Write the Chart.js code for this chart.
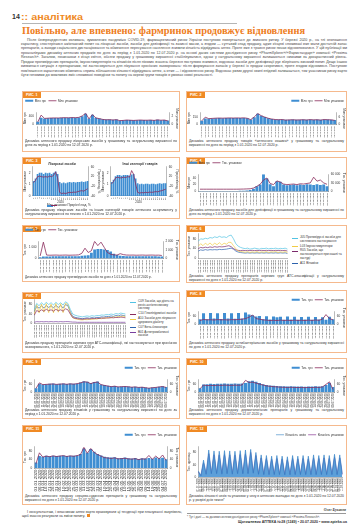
<!DOCTYPE html>
<html lang="uk"><head><meta charset="utf-8">
<script src="https://cdn.jsdelivr.net/npm/chart.js@4.4.0/dist/chart.umd.min.js"></script>
<style>
html,body{margin:0;padding:0;}
body{width:360px;height:530px;background:#fff;position:relative;overflow:hidden;font-family:"Liberation Sans",Arial,sans-serif;color:#333;}
.a{position:absolute;}
#pg{left:12px;top:13px;font:bold 7px "Liberation Sans";color:#333;}
#sec{left:21px;top:11px;font:bold 9.5px "Liberation Sans";color:#f08a24;white-space:nowrap;transform-origin:0 0;}
#rule{left:22px;top:23px;width:215px;height:0;border-top:0.8px solid #b5b5b5;}
#title{left:22px;top:25px;font:bold 10.5px "Liberation Serif";color:#ee7d22;white-space:nowrap;transform-origin:0 0;}
#body{left:21px;top:37.5px;width:326px;font:3.6px/4.45px "Liberation Sans";color:#444;text-align:justify;text-indent:6px;}
.box{position:absolute;border:1px solid #f5b98d;box-sizing:border-box;}
.tag{position:absolute;left:0;top:0;background:#f08a24;color:#fff;font:bold 3.6px/6px "Liberation Sans";padding:0 3px;height:6px;}
.cap{position:absolute;font:3.4px/4.3px "Liberation Sans";color:#333;text-align:justify;}
canvas{position:absolute;}
.lg{position:absolute;font:3.1px/3.7px "Liberation Sans";color:#333;}
.lg div{position:relative;padding-left:8px;margin-bottom:1.2px;}
.lg span{position:absolute;left:0;top:1.6px;width:6px;height:0.9px;}
#foot1{left:22px;top:509.5px;width:160px;font:3.5px/4.4px "Liberation Sans";text-align:justify;text-indent:5px;color:#333;}
#sign{left:300px;top:507.5px;width:46px;text-align:right;font:italic bold 3.8px "Liberation Serif";color:#333;}
#frule{left:187px;top:513px;width:159px;border-top:0.6px solid #999;}
#fnote{left:187px;top:514.5px;font:2.9px "Liberation Sans";color:#444;white-space:nowrap;}
#pfoot{left:226px;top:520px;width:121px;text-align:right;font:bold 3.6px "Liberation Sans";color:#333;white-space:nowrap;}
.sq{display:inline-block;width:2.5px;height:2.5px;background:#f08a24;margin-left:2px;}
</style></head>
<body>
<div id="pg" class="a">14</div>
<div id="sec" class="a">:: аналітика</div>
<div id="rule" class="a"></div>
<div id="title" class="a">Повільно, але впевнено: фармринок продовжує відновлення</div>
<div id="body" class="a">Після безпрецедентних коливань, зумовлених пандемією COVID-19, фармацевтичний ринок України поступово повертається до звичного ритму. У березні 2020 р., на тлі оголошення карантину, спостерігався ажіотажний попит на лікарські засоби, засоби для дезінфекції та захисні маски, а згодом — суттєвий спад продажу, адже кінцеві споживачі вже мали достатній запас препаратів, а заходи соціального дистанціювання та обмеження пересування населення знизили кількість відвідувань аптек. Проте вже з травня ринок почав відновлюватися. У цій публікації ми проаналізуємо динаміку аптечних продажів по днях за період з 1.01.2020 по 12.07.2020 р. на основі даних системи дослідження ринку «PharmXplorer»/«Фармстандарт» компанії «Proxima Research». Загалом, починаючи з кінця квітня, обсяги продажу у грошовому вираженні стабілізувалися, однак у натуральному вираженні залишаються нижчими за докарантинний рівень. Продаж противірусних препаратів, імуностимуляторів та вітамінів після пікових значень березня поступово знизився, водночас засоби для дезінфекції рук зберігають високий попит. Дещо іншою виявилася ситуація з препаратами, які застосовуються для лікування хронічних захворювань: після формування запасів у березні їх продаж скоротився, проте згодом відновився. Поступове пом'якшення карантинних обмежень сприяє збільшенню кількості відвідувань аптек, а отже — і відновленню ринку. Водночас ризик другої хвилі епідемії залишається, тож учасникам ринку варто бути готовими до можливих змін споживчої поведінки та попиту на окремі групи товарів в умовах нової реальності.</div>

<div class="box" style="left:22px;top:91px;width:158px;height:61px"><div class="tag">РИС. 1</div></div>
<div class="box" style="left:186px;top:91px;width:161px;height:61px"><div class="tag">РИС. 2</div></div>
<div class="box" style="left:22px;top:157px;width:158px;height:62px"><div class="tag">РИС. 3</div></div>
<div class="box" style="left:186px;top:157px;width:161px;height:62px"><div class="tag">РИС. 4</div></div>
<div class="box" style="left:22px;top:225px;width:158px;height:57px"><div class="tag">РИС. 5</div></div>
<div class="box" style="left:186px;top:225px;width:161px;height:58px"><div class="tag">РИС. 6</div></div>
<div class="box" style="left:22px;top:292px;width:158px;height:61px"><div class="tag">РИС. 7</div></div>
<div class="box" style="left:186px;top:290px;width:161px;height:63px"><div class="tag">РИС. 8</div></div>
<div class="box" style="left:22px;top:358px;width:158px;height:61px"><div class="tag">РИС. 9</div></div>
<div class="box" style="left:186px;top:358px;width:161px;height:61px"><div class="tag">РИС. 10</div></div>
<div class="box" style="left:22px;top:425px;width:158px;height:80px"><div class="tag">РИС. 11</div></div>
<div class="box" style="left:186px;top:425px;width:161px;height:80px"><div class="tag">РИС. 12</div></div>

<canvas id="c1" style="left:23px;top:97px"></canvas>
<canvas id="c2" style="left:187px;top:97px"></canvas>
<canvas id="c3a" style="left:23px;top:162px"></canvas>
<canvas id="c3b" style="left:101px;top:162px"></canvas>
<canvas id="c4" style="left:187px;top:159px"></canvas>
<canvas id="c5" style="left:23px;top:226px"></canvas>
<canvas id="c6" style="left:187px;top:231px"></canvas>
<canvas id="c7" style="left:23px;top:297px"></canvas>
<canvas id="c8" style="left:187px;top:296px"></canvas>
<canvas id="c9" style="left:23px;top:364px"></canvas>
<canvas id="c10" style="left:187px;top:364px"></canvas>
<canvas id="c11" style="left:23px;top:431px"></canvas>
<canvas id="c12" style="left:187px;top:431px"></canvas>

<div id="lg3" class="lg" style="left:47px;top:203.5px;white-space:nowrap"></div>
<div id="lg6" class="lg" style="left:292px;top:236px;width:54px"></div>
<div id="lg7" class="lg" style="left:130px;top:300px;width:48px"></div>

<div class="cap" style="left:25px;top:138.5px;width:152px">Динаміка аптечного продажу лікарських засобів у грошовому та натуральному вираженні по днях за період з 1.01.2020 по 12.07.2020 р.</div>
<div class="cap" style="left:189px;top:138.5px;width:155px">Динаміка аптечного продажу товарів «аптечного кошика» у грошовому та натуральному вираженні по днях за період з 1.01.2020 по 12.07.2020 р.</div>
<div class="cap" style="left:25px;top:208px;width:152px">Динаміка продажу лікарських засобів та інших категорій товарів аптечного асортименту у натуральному вираженні по тижнях з 1.01.2020 по 12.07.2020 р.</div>
<div class="cap" style="left:189px;top:208px;width:155px">Динаміка аптечного продажу засобів для дезінфекції в грошовому та натуральному вираженні по днях за період з 1.01.2020 по 12.07.2020 р.</div>
<div class="cap" style="left:25px;top:275px;width:152px;white-space:nowrap;font-size:3.1px">Динаміка аптечного продажу противірусних засобів по днях з 1.01.2020 по 12.07.2020 р.</div>
<div class="cap" style="left:189px;top:273.5px;width:155px">Динаміка аптечного продажу препаратів окремих груп АТС-класифікації у натуральному вираженні по днях з 1.01.2020 по 12.07.2020 р.</div>
<div class="cap" style="left:25px;top:341px;width:152px">Динаміка продажу препаратів окремих груп АТС-класифікації, які застосовуються при хронічних захворюваннях, з 1.01.2020 по 12.07.2020 р.</div>
<div class="cap" style="left:189px;top:341px;width:155px">Динаміка аптечного продажу антибактеріальних засобів у грошовому та натуральному вираженні по днях з 1.01.2020 по 12.07.2020 р.</div>
<div class="cap" style="left:25px;top:407.5px;width:152px">Динаміка аптечного продажу вітамінів у грошовому та натуральному вираженні по днях за період з 1.01.2020 по 12.07.2020 р.</div>
<div class="cap" style="left:189px;top:407.5px;width:155px">Динаміка аптечного продажу дерматологічних препаратів у грошовому та натуральному вираженні по днях з 1.01.2020 по 12.07.2020 р.</div>
<div class="cap" style="left:25px;top:493.5px;width:152px">Динаміка аптечного продажу серцево-судинних препаратів у грошовому та натуральному вираженні по днях з 1.01.2020 по 12.07.2020 р.</div>
<div class="cap" style="left:189px;top:493.5px;width:155px">Динаміка кількості чеків та упаковок у чеку в аптечних закладах по днях з 1.01.2020 по 12.07.2020 р. у розрізі днів тижня*</div>

<div id="foot1" class="a">І консультантам, і власникам аптек варто враховувати ці тенденції при плануванні закупівель, щоб вчасно реагувати на зміни попиту.<span class="sq"></span></div>
<div id="sign" class="a">Олег Буханов</div>
<div id="frule" class="a"></div>
<div id="fnote" class="a">* Тут і далі — за даними системи дослідження ринку «PharmXplorer» компанії «Proxima Research».</div>
<div id="pfoot" class="a">Щотижневик АПТЕКА №28 (1249) • 20.07.2020 • www.apteka.ua</div>

<script>
// ---------- data ----------
const days = ["01.01.2020","06.01.2020","11.01.2020","16.01.2020","21.01.2020","26.01.2020","31.01.2020","05.02.2020","10.02.2020","15.02.2020","20.02.2020","25.02.2020","01.03.2020","06.03.2020","11.03.2020","16.03.2020","21.03.2020","26.03.2020","31.03.2020","05.04.2020","10.04.2020","15.04.2020","20.04.2020","25.04.2020","30.04.2020","05.05.2020","10.05.2020","15.05.2020","20.05.2020","25.05.2020","30.05.2020","04.06.2020","09.06.2020","14.06.2020","19.06.2020","24.06.2020","29.06.2020","04.07.2020","09.07.2020"];
const weeks = ["1","2","3","4","5","6","7","8","9","10","11","12","13","14","15","16","17","18","19","20","21","22","23","24","25","26","27","28"];
const halfWeeks = ["01.01.2020","04.01.2020","08.01.2020","11.01.2020","15.01.2020","18.01.2020","22.01.2020","25.01.2020","29.01.2020","01.02.2020","05.02.2020","08.02.2020","12.02.2020","15.02.2020","19.02.2020","22.02.2020","26.02.2020","29.02.2020","04.03.2020","07.03.2020","11.03.2020","14.03.2020","18.03.2020","21.03.2020","25.03.2020","28.03.2020","01.04.2020","04.04.2020","08.04.2020","11.04.2020","15.04.2020","18.04.2020","22.04.2020","25.04.2020","29.04.2020","02.05.2020","06.05.2020","09.05.2020","13.05.2020","16.05.2020","20.05.2020","23.05.2020","27.05.2020","30.05.2020","03.06.2020","06.06.2020","10.06.2020","13.06.2020","17.06.2020","20.06.2020","24.06.2020","27.06.2020","01.07.2020","04.07.2020","08.07.2020","11.07.2020"];

const fig1Uah = [140,330,300,310,320,325,320,330,335,330, 340,335,345,400,530,300,480,330,300,260, 240,250,230,245,200,210,225,220,210,215, 225,220,215,225,210,235,215,225,195];
const fig1Pack = [0.6,2.3,1.5,1.55,1.6,1.62,1.6,1.65,1.68,1.65, 1.7,1.68,1.75,2.1,2.75,1.4,2.45,1.6,1.45,1.25, 1.15,1.2,1.1,1.2,0.95,1.0,1.1,1.05,1.0,1.05, 1.1,1.05,1.05,1.1,1.0,1.15,1.05,1.1,0.9];

const fig2Uah = [75,125,120,125,130,132,130,132,135,132, 135,132,135,130,105,150,220,180,155,130, 115,105,100,105,95,98,100,96,98,100, 96,102,98,100,95,103,100,98,90];
const fig2Pack = [3.0,6.0,4.8,5.0,5.2,5.3,5.2,5.3,5.4,5.3, 5.4,5.3,5.5,5.1,4.0,6.2,9.0,7.2,6.1,5.1, 4.5,4.1,3.9,4.1,3.6,3.8,3.9,3.7,3.8,3.9, 3.7,4.0,3.8,3.9,3.6,4.1,3.9,3.8,3.4];

const fig3DrugsPack = [1.3,1.5,1.9,2.0,2.0,1.9,2.0,1.95,2.0,1.9, 2.0,2.1,1.9,1.2,1.1,1.15,1.1,1.15,1.2,1.15, 1.2,1.15,1.2,1.2,1.25,1.2,1.25,1.3];
const fig3DrugsGrowth = [-5,5,20,22,20,18,20,18,22,20, 25,40,15,-45,-50,-48,-50,-47,-45,-46, -44,-45,-42,-40,-38,-40,-35,-30];
const fig3OtherPack = [1.2,1.4,1.7,1.8,1.8,1.75,1.8,1.8,1.8,1.75, 1.85,1.9,1.5,1.1,1.0,1.05,1.0,1.05,1.05,1.0, 1.05,1.05,1.0,1.05,1.1,1.05,1.1,1.1];
const fig3OtherGrowth = [-10,0,15,18,15,15,18,16,20,18, 45,30,-10,-45,-48,-46,-47,-45,-46,-44, -45,-44,-42,-43,-40,-38,-35,-32];

const fig4Uah = [1.5,1.5,1.5,1.5,1.5,1.5,1.5,1.5,1.5,1.5, 1.5,1.6,1.8,2,3,4,8,15,20,50, 38,21,15,30,28,20,18,19,20,18, 20,19,21,20,19,21,19,20,15];
const fig4Pack = [8000,8000,8000,8000,8000,8000,8000,8000,8000,8000, 8000,8000,8200,8500,9000,9500,12000,18000,25000,40000, 47000,28000,24000,37000,33000,26000,24000,25000,26000,24000, 27000,26000,28000,30000,50000,36000,40000,30000,25000];

const fig5Uah = [100,180,170,180,185,190,185,190,195,190, 195,190,200,230,250,280,500,780,830,820, 790,740,600,420,300,230,210,200,195,190, 195,190,185,190,185,190,185,180,170];
const fig5Pack = [300,1900,400,380,390,400,380,390,400,380, 390,400,420,600,1200,700,900,2000,1500,1900, 1300,700,500,420,400,560,450,400,390,400, 380,390,400,380,390,400,380,390,350];

const fig6Names = ["J05 Противірусні засоби для системного застосування","L03 Імуностимулятори","R05 Засоби, що застосовуються при кашлі та застуді","A11 Вітаміни"];
const fig6A = [70,80,78,82,80,85,83,88,85,90, 86,88,85,92,95,80,60,50,45,42, 40,42,38,40,42,40,38,41,40,42, 39,41,40,42,39,41,40,42,38];
const fig6B = [50,60,52,62,55,63,54,62,56,64, 55,62,58,66,65,52,40,30,28,27, 25,28,24,27,25,28,24,27,25,28, 24,27,26,28,24,27,25,28,24];
const fig6C = [40,45,43,46,44,47,45,48,46,48, 47,48,50,52,48,40,35,33,32,33, 32,33,32,33,32,33,32,33,32,33, 32,33,32,33,32,33,32,33,30];
const fig6D = [30,35,33,36,34,36,35,36,35,37, 36,37,38,40,42,38,30,26,24,23, 22,23,22,23,22,23,22,23,22,23, 22,23,22,23,22,23,22,23,20];

const fig7Names = ["C09 Засоби, що діють на ренін-ангіотензинову систему","C10 Гіполіпідемічні засоби","A10 Засоби для лікування цукрового діабету","C07 Бета-блокатори","B01 Антитромботичні засоби"];
const fig7A = [60,85,75,88,78,90,80,88,78,90, 80,88,78,92,85,60,40,35,32,30, 28,30,32,30,33,31,34,33,36,35, 38,37,40,38,42,40,44,42,40];
const fig7B = [35,55,50,58,52,60,54,58,52,60, 54,58,52,62,58,40,25,22,20,19, 18,19,20,19,21,20,22,21,23,22, 24,23,25,24,26,25,27,26,24];
const fig7C = [40,80,45,82,48,84,46,82,45,85, 48,84,46,86,80,45,25,20,18,16, 15,17,16,18,17,20,18,22,20,24, 22,26,24,28,26,30,28,32,28];
const fig7D = [50,72,65,75,66,76,68,75,66,77, 68,76,66,80,75,50,30,26,24,22, 20,22,24,22,25,23,26,25,28,27, 30,29,32,30,34,32,36,34,32];
const fig7E = [5,8,7,8,7,8,7,8,7,8, 7,8,7,8,8,7,6,6,5,5, 5,5,5,5,5,5,5,5,5,5, 5,5,5,5,5,5,5,5,5];

const fig8Uah = [40,85,40,88,45,85,42,88,45,86, 44,88,45,90,75,70,60,65,40,62, 38,60,55,58,35,60,38,58,36,56, 38,58,36,56,38,55,36,58,40];
const fig8Pack = [30,38,35,36,34,37,35,36,34,37, 36,38,40,45,55,72,45,40,35,33, 30,32,30,33,31,32,30,33,31,32, 30,33,31,34,32,40,75,45,35];

const fig9Uah = [30,65,60,62,64,66,62,64,66,63, 66,64,66,75,85,80,70,78,82,60, 55,50,45,48,42,44,45,43,40,42, 38,40,36,32,36,38,42,45,40];
const fig9Pack = [28,72,58,60,62,63,60,62,64,61, 64,62,65,72,80,78,66,75,78,58, 52,47,42,46,40,42,43,41,38,40, 36,38,34,30,34,36,40,43,36];

const fig10Uah = [30,60,62,64,63,65,64,66,65,64, 66,65,67,70,85,88,80,70,62,55, 52,50,48,46,45,44,45,44,43,44, 42,44,43,45,44,46,55,70,40];
const fig10Pack = [25,55,50,52,51,53,52,54,53,52, 54,53,55,92,75,78,70,62,55,48, 45,42,40,38,37,36,37,36,35,36, 34,36,35,37,36,40,60,80,20];

const fig11Uah = [25,55,52,56,54,57,55,56,58,55, 57,56,58,65,90,70,88,75,65,58, 52,50,48,50,45,46,48,45,44,46, 42,45,44,46,43,48,45,47,40];
const fig11Pack = [20,70,50,55,52,56,53,55,57,53, 56,54,57,62,95,68,90,72,62,55, 48,46,44,47,42,43,45,42,41,43, 39,42,41,58,40,55,42,60,35];

const fig12Checks = [20,5,55,10,88,12,85,12,84,11, 86,12,85,11,84,12,86,12,88,12, 90,14,80,10,72,9,70,9,68,9, 70,9,68,8,66,8,70,9,68,9, 70,9,68,9,72,9,70,9,72,9, 70,9,74,9,72,10];
const fig12Packs = [16,4,46,8,76,10,72,10,71,9, 73,10,72,9,71,10,73,10,75,10, 80,12,70,8,62,7,60,7,58,7, 60,7,58,7,56,7,60,7,58,7, 60,7,58,7,62,7,60,7,62,7, 60,7,64,7,62,8];

// ---------- styling ----------
const BLUE = '#3f8ed2', PURPLE = '#8a2b5c';
Chart.defaults.font.family = 'Liberation Sans';
Chart.defaults.font.size = 3.4;
Chart.defaults.color = '#333';

function fmt(v){ const s = String(Math.round(v*100)/100); return s.replace('.', ',').replace(/\B(?=(\d{3})+(?!\d))/g,' '); }
function yAxis(pos, a, title){
  return {position:pos, min:a[0], max:a[1],
    ticks:{stepSize:a[2], font:{size:3.1}, padding:1, callback:v=>fmt(v)},
    grid:{display:false, drawTicks:true, tickLength:1},
    border:{color:'#777', width:0.5},
    title:{display:!!title, text:title, font:{size:3.2}, padding:0.5}};
}
function xAxis(fs, title){
  return {ticks:{font:{size:fs}, maxRotation:90, minRotation:90, autoSkip:false, padding:0.5},
    grid:{display:false, drawTicks:true, tickLength:1}, border:{color:'#777', width:0.5},
    title:{display:!!title, text:title, font:{size:3}, padding:0}};
}
function setSize(id,w,h){ const c=document.getElementById(id); c.width=w; c.height=h; c.style.width=w+'px'; c.style.height=h+'px'; return c; }
const legendOpts = (align)=>({display:true, position:'top', align:align,
  labels:{usePointStyle:true, pointStyleWidth:8, boxHeight:2.2, padding:2.2, font:{size:3.1},
  sort:(a,b)=>a.datasetIndex-b.datasetIndex}});

function barLine(id,w,h,labels,bars,line,o){
  const c=setSize(id,w,h);
  return new Chart(c,{data:{labels:labels,datasets:[
      {type:'bar',label:o.barLabel,data:bars,yAxisID:'y',backgroundColor:BLUE,borderWidth:0,barPercentage:0.86,categoryPercentage:1,order:2,pointStyle:'rect'},
      {type:'line',label:o.lineLabel,data:line,yAxisID:'y1',borderColor:PURPLE,borderWidth:0.8,pointRadius:0,tension:0,order:1,pointStyle:'line'}]},
    options:{responsive:false,animation:false,devicePixelRatio:1,layout:{padding:o.pad||0},
      plugins:{legend:o.legend===false?{display:false}:legendOpts(o.align||'start'),tooltip:{enabled:false},
        title:{display:!!o.title,text:o.title,font:{size:3.3},padding:{top:0,bottom:1}}},
      scales:{x:xAxis(o.xfs||2.4,o.xTitle), y:yAxis('left',o.y,o.yTitle), y1:yAxis('right',o.y1,o.y1Title)}}});
}
function lines(id,w,h,labels,series,o){
  const c=setSize(id,w,h);
  return new Chart(c,{type:'line',data:{labels:labels,datasets:series.map(s=>({label:s.label,data:s.data,borderColor:s.color,backgroundColor:s.fill||s.color,fill:!!s.fill,borderWidth:s.bw||0.7,pointRadius:0,tension:0,pointStyle:'line'}))},
    options:{responsive:false,animation:false,devicePixelRatio:1,layout:{padding:o.pad||0},
      plugins:{legend:o.legend?legendOpts('end'):{display:false},tooltip:{enabled:false}},
      scales:{x:xAxis(o.xfs||2.4), y:yAxis('left',o.y,o.yTitle)}}});
}

// ---------- charts ----------
barLine('c1',156,41,days,fig1Uah,fig1Pack,{barLabel:'Млн грн',lineLabel:'Млн упаковок',y:[0,600,100],y1:[0,3,0.5],yTitle:'Млн грн',y1Title:'Млн упаковок',xfs:2.3,align:'start'});
barLine('c2',159,41,days,fig2Uah,fig2Pack,{barLabel:'Млн грн',lineLabel:'Млн упаковок',y:[0,250,50],y1:[0,10,2],yTitle:'Млн грн',y1Title:'Млн упаковок',xfs:2.3,align:'end'});
barLine('c3a',78,42,weeks,fig3DrugsPack,fig3DrugsGrowth,{barLabel:'Млн упаковок',lineLabel:'Приріст/спад, %',y:[0,2.5,0.5],y1:[-60,60,20],yTitle:'Млн упаковок',y1Title:'Приріст/спад, %',xfs:2.2,legend:false,title:'Лікарські засоби',xTitle:'2020'});
barLine('c3b',78,42,weeks,fig3OtherPack,fig3OtherGrowth,{barLabel:'Млн упаковок',lineLabel:'Приріст/спад, %',y:[0,2.5,0.5],y1:[-60,60,20],yTitle:'Млн упаковок',y1Title:'Приріст/спад, %',xfs:2.2,legend:false,title:'Інші категорії товарів',xTitle:'2020'});
barLine('c4',159,47,days,fig4Uah,fig4Pack,{barLabel:'Млн грн',lineLabel:'Тис. упаковок',y:[0,50,10],y1:[0,60000,10000],yTitle:'Млн грн',y1Title:'Тис. упаковок',xfs:2.5,align:'start'});
barLine('c5',156,47,days,fig5Uah,fig5Pack,{barLabel:'Тис. грн',lineLabel:'Тис. упаковок',y:[0,1500,500],y1:[0,2000,500],yTitle:'Тис. грн',y1Title:'Тис. упаковок',xfs:2.5,align:'start'});
lines('c6',104,42,days,[
  {label:fig6Names[0],data:fig6A,color:'#52c3e3'},
  {label:fig6Names[1],data:fig6B,color:'#f1cc45'},
  {label:fig6Names[2],data:fig6C,color:'#7b2a6a'},
  {label:fig6Names[3],data:fig6D,color:'#2d63ad'}],{y:[0,100,20],yTitle:'Тис. упаковок',xfs:2.5});
lines('c7',106,41,days,[
  {label:fig7Names[0],data:fig7A,color:'#52c3e3'},
  {label:fig7Names[1],data:fig7B,color:'#8a2b5c'},
  {label:fig7Names[2],data:fig7C,color:'#f1cc45'},
  {label:fig7Names[3],data:fig7D,color:'#2d63ad'},
  {label:fig7Names[4],data:fig7E,color:'#7a3f9e'}],{y:[0,100,20],yTitle:'Тис. упаковок',xfs:2.5});
barLine('c8',159,43,days,fig8Uah,fig8Pack,{barLabel:'Тис. грн',lineLabel:'Тис. упаковок',y:[0,100,20],y1:[0,100,20],yTitle:'Тис. грн',y1Title:'Тис. упаковок',xfs:2.5,align:'end'});
barLine('c9',156,44,days,fig9Uah,fig9Pack,{barLabel:'Тис. грн',lineLabel:'Тис. упаковок',y:[0,100,20],y1:[0,100,20],yTitle:'Тис. грн',y1Title:'Тис. упаковок',xfs:2.8,align:'end'});
barLine('c10',159,44,days,fig10Uah,fig10Pack,{barLabel:'Тис. грн',lineLabel:'Тис. упаковок',y:[0,100,20],y1:[0,100,20],yTitle:'Тис. грн',y1Title:'Тис. упаковок',xfs:2.8,align:'end'});
barLine('c11',156,61,days,fig11Uah,fig11Pack,{barLabel:'Тис. грн',lineLabel:'Тис. упаковок',y:[0,100,20],y1:[0,100,20],yTitle:'Тис. грн',y1Title:'Тис. упаковок',xfs:4.4,align:'end'});
lines('c12',159,61,halfWeeks,[
  {label:'Кількість чеків',data:fig12Checks,color:'#2f7fc4',fill:'rgba(63,142,210,0.85)',bw:0.6},
  {label:'Кількість упаковок',data:fig12Packs,color:'#8a3a96',bw:0.7}],{y:[0,100,20],yTitle:'Тис. одиниць',xfs:2.6,legend:true});

// ---------- html legends ----------
function htmlLegend(id, items){
  document.getElementById(id).innerHTML = items.map(it=>'<div><span style="background:'+it[1]+'"></span>'+it[0]+'</div>').join('');
}
htmlLegend('lg6',[[fig6Names[0],'#52c3e3'],[fig6Names[1],'#f1cc45'],[fig6Names[2],'#7b2a6a'],[fig6Names[3],'#2d63ad']]);
htmlLegend('lg7',[[fig7Names[0],'#52c3e3'],[fig7Names[1],'#8a2b5c'],[fig7Names[2],'#f1cc45'],[fig7Names[3],'#2d63ad'],[fig7Names[4],'#7a3f9e']]);
document.getElementById('lg3').innerHTML = '<span style="display:inline-block;width:6px;height:2px;background:'+BLUE+';vertical-align:middle;margin-right:1.5px"></span>Млн упаковок <span style="display:inline-block;width:6px;height:0.9px;background:'+PURPLE+';vertical-align:middle;margin:0 1.5px 0 4px"></span>Приріст/спад, %';

// fit header widths
function fit(id, w){ const e=document.getElementById(id); const cw=e.getBoundingClientRect().width; e.style.transform='scaleX('+(w/cw)+')'; }
fit('title',283); fit('sec',62);
</script>
</body></html>
